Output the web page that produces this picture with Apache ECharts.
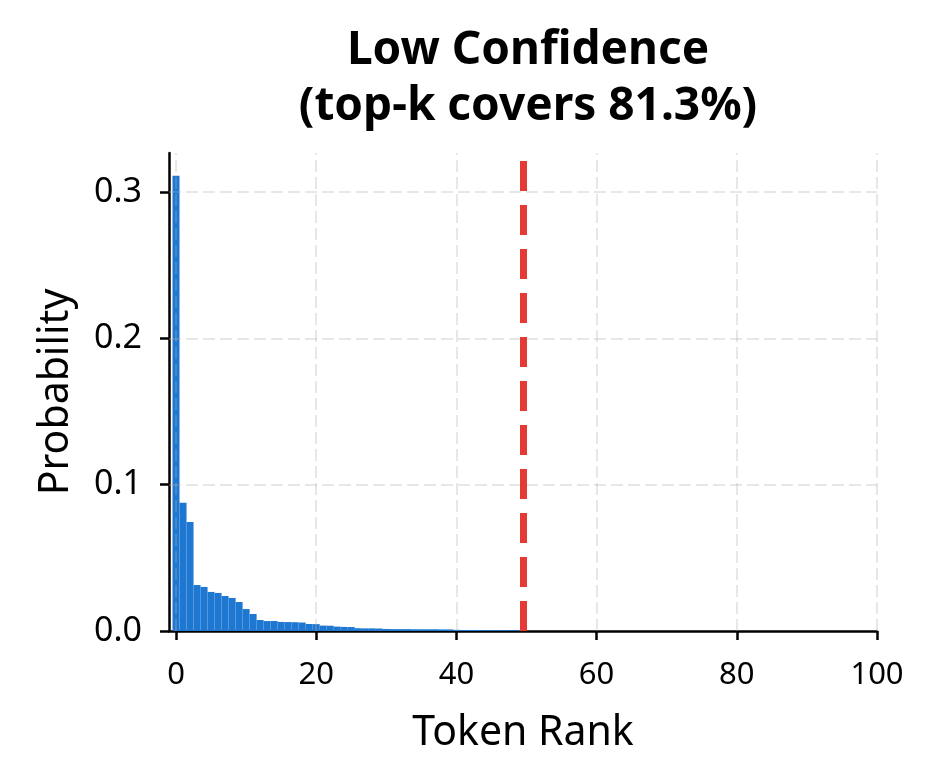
<!DOCTYPE html>
<html>
<head>
<meta charset="utf-8">
<script src="https://cdn.jsdelivr.net/npm/echarts@6/dist/echarts.min.js"></script>
<style>
html,body{margin:0;padding:0;background:#fff;}
#chart{width:934px;height:784px;}
</style>
</head>
<body>
<div id="chart"></div>
<script>
// Token ranks 0..49 (top-k = 50)
const ranks = Array.from({length: 50}, (_, i) => i);
const probs = [
  0.311, 0.0877, 0.0745, 0.0314, 0.0301, 0.0267, 0.0260, 0.0239, 0.0226, 0.0198,
  0.0150, 0.0116, 0.0075, 0.0068, 0.0068, 0.0062, 0.0061, 0.0060, 0.0058, 0.0048,
  0.0047, 0.0037, 0.0036, 0.0030, 0.0028, 0.0027, 0.0019, 0.0018, 0.0018, 0.0017,
  0.0014, 0.0013, 0.0013, 0.0013, 0.0012, 0.0012, 0.0012, 0.0012, 0.0011, 0.0011,
  0.0008, 0.0007, 0.0007, 0.0007, 0.0006, 0.0006, 0.0006, 0.0006, 0.0005, 0.0005
];
const xTicks = [0, 20, 40, 60, 80, 100];
const yTicks = [0, 0.1, 0.2, 0.3];
const cutoff = 49.5;
const titleText = 'Low Confidence\n(top-k covers 81.3%)';
const xName = 'Token Rank';
const yName = 'Probability';

const FONT = 'Noto Sans';
const chart = echarts.init(document.getElementById('chart'), null, {renderer: 'canvas'});
const gridDash = {color: 'rgba(176,176,176,0.3)', width: 2, type: [12, 5]};

const option = {
  animation: false,
  backgroundColor: '#ffffff',
  textStyle: {fontFamily: FONT},
  title: {
    text: titleText,
    left: 523, top: 18, textAlign: 'center',
    textStyle: {fontFamily: FONT, fontWeight: 'bold', fontSize: 46, lineHeight: 56, color: '#000'}
  },
  grid: {left: 169, right: 57, top: 153, bottom: 153, containLabel: false},
  xAxis: {
    type: 'value', min: -1, max: 100,
    name: xName, nameLocation: 'middle', nameGap: 82,
    nameTextStyle: {fontFamily: FONT, fontSize: 41, color: '#000'},
    axisLine: {show: true, onZero: false, lineStyle: {color: '#000', width: 2.5}},
    axisTick: {show: true, length: 9, customValues: xTicks, lineStyle: {color: '#000', width: 2.5}},
    axisLabel: {customValues: xTicks, fontFamily: FONT, fontSize: 31, color: '#000', margin: 29},
    splitLine: {show: false}
  },
  yAxis: {
    type: 'value', min: 0, max: 0.3266,
    name: yName, nameLocation: 'middle', nameGap: 92, nameRotate: 90,
    nameTextStyle: {fontFamily: FONT, fontSize: 41, color: '#000'},
    axisLine: {show: true, onZero: false, lineStyle: {color: '#000', width: 2.5}},
    axisTick: {show: true, length: 9, customValues: yTicks, lineStyle: {color: '#000', width: 2.5}},
    axisLabel: {customValues: yTicks, fontFamily: FONT, fontSize: 34, color: '#000', margin: 27,
      formatter: v => v.toFixed(1)},
    splitLine: {show: false}
  },
  series: [
    {
      type: 'bar',
      data: ranks.map((r, i) => [r, probs[i]]),
      barWidth: '100%',
      itemStyle: {color: '#1e78d2'},
      z: 2
    },
    {
      type: 'line', data: [], silent: true, z: 5,
      markLine: {
        silent: true, symbol: 'none', animation: false,
        label: {show: false},
        lineStyle: gridDash,
        data: [
          ...xTicks.map(v => ({xAxis: v})),
          ...yTicks.filter(v => v > 0).map(v => ({yAxis: v}))
        ]
      }
    },
    {
      type: 'line', data: [], silent: true, z: 6,
      markLine: {
        silent: true, symbol: 'none', animation: false,
        label: {show: false},
        lineStyle: {color: '#e53935', width: 7, type: [30, 14]},
        data: [{xAxis: cutoff}]
      }
    }
  ]
};
chart.setOption(option);
</script>
</body>
</html>
